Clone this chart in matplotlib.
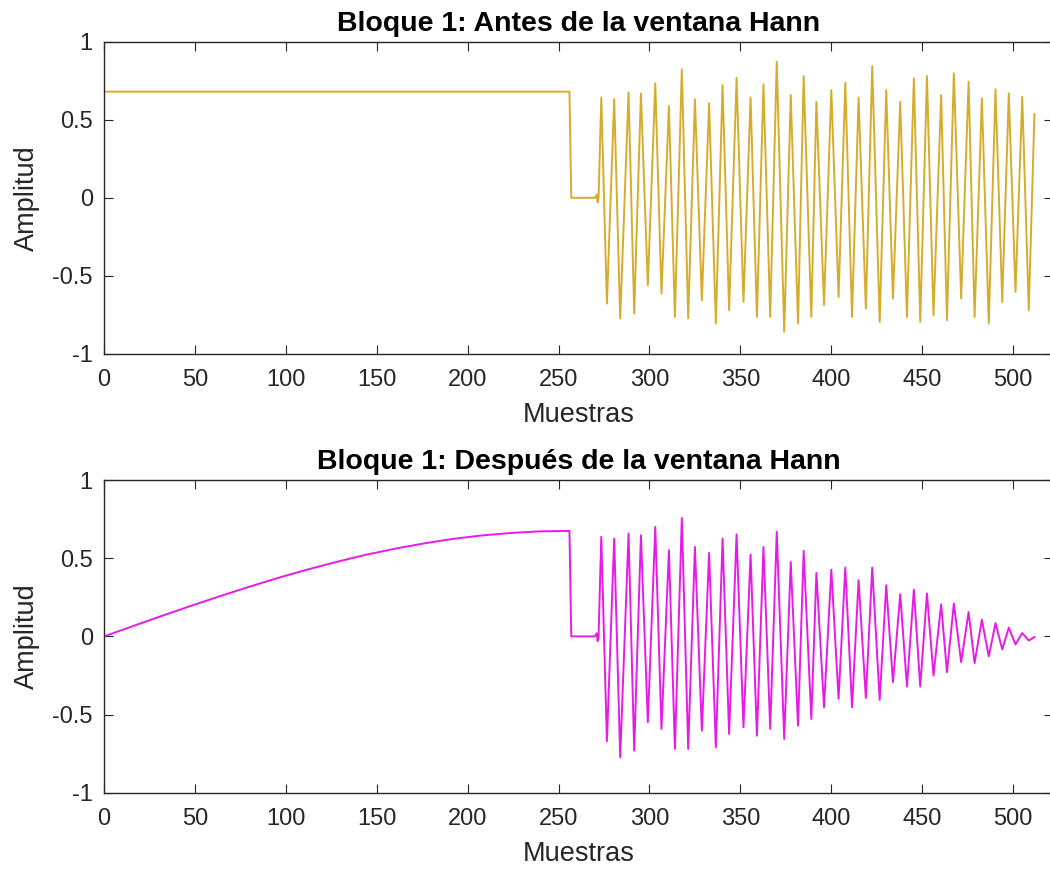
import numpy as np
import matplotlib.pyplot as plt

plt.rcParams['font.family'] = ['Liberation Sans', 'DejaVu Sans']
plt.rcParams['axes.unicode_minus'] = False

# --- datos (bloque de 512 muestras) ---
nivel_inicial = 0.68
x_plano = [0, 256]
x_silencio = [257, 270, 271, 271.5, 272]
y_silencio = [0, 0, 0.02, -0.03, 0]

# máximos y mínimos alternados del tramo oscilante
x_extremos = [273.5, 276.6, 280.6, 283.9, 288.5, 291.6, 295.3, 299.1, 303.2, 306.6,
              310.7, 314.0, 317.8, 321.3, 325.0, 328.8, 332.8, 336.5, 340.2, 343.8,
              347.9, 351.7, 355.6, 359.1, 362.7, 366.4, 370.0, 374.1, 377.7, 381.7,
              384.8, 389.0, 391.8, 396.0, 400.0, 404.0, 407.7, 411.4, 415.0, 419.0,
              422.5, 426.6, 430.2, 433.9, 437.9, 441.6, 445.4, 448.9, 452.6, 456.2,
              460.4, 463.6, 467.4, 471.4, 475.5, 478.8, 482.8, 486.6, 490.3, 494.0,
              497.6, 501.3, 505.0, 508.6, 511.7]
y_antes = [0.643, -0.677, 0.633, -0.773, 0.676, -0.741, 0.669, -0.56, 0.733, -0.613,
           0.588, -0.763, 0.823, -0.773, 0.631, -0.656, 0.605, -0.805, 0.722, -0.72,
           0.769, -0.667, 0.643, -0.763, 0.727, -0.763, 0.872, -0.859, 0.658, -0.805,
           0.78, -0.763, 0.615, -0.688, 0.69, -0.635, 0.737, -0.763, 0.643, -0.709,
           0.844, -0.795, 0.69, -0.645, 0.615, -0.763, 0.765, -0.795, 0.78, -0.752,
           0.658, -0.784, 0.797, -0.645, 0.744, -0.763, 0.637, -0.805, 0.695, -0.667,
           0.669, -0.603, 0.647, -0.72, 0.536]
y_despues = [0.637, -0.671, 0.626, -0.774, 0.658, -0.731, 0.647, -0.549, 0.701, -0.592,
             0.551, -0.72, 0.758, -0.72, 0.572, -0.603, 0.534, -0.71, 0.626, -0.624,
             0.652, -0.581, 0.524, -0.635, 0.572, -0.592, 0.669, -0.656, 0.476, -0.571,
             0.547, -0.528, 0.406, -0.453, 0.427, -0.399, 0.44, -0.453, 0.359, -0.393,
             0.44, -0.406, 0.327, -0.293, 0.269, -0.321, 0.299, -0.321, 0.274, -0.25,
             0.205, -0.229, 0.21, -0.165, 0.156, -0.171, 0.107, -0.128, 0.085, -0.083,
             0.056, -0.051, 0.021, -0.026, -0.004]

# subida de la primera mitad tras la ventana
x_rampa = list(range(0, 257, 16))
y_rampa = [0, 0.066, 0.132, 0.196, 0.258, 0.318, 0.375, 0.428, 0.477, 0.522,
           0.561, 0.595, 0.624, 0.646, 0.662, 0.672, 0.675]

x_antes = x_plano + x_silencio + x_extremos
y_antes_total = [nivel_inicial, nivel_inicial] + y_silencio + y_antes
x_despues = x_rampa + x_silencio + x_extremos
y_despues_total = y_rampa + y_silencio + y_despues


def dibujar(ax, x, y, color, titulo):
    ax.plot(x, y, color=color, linewidth=1.4, solid_joinstyle='round')
    ax.set_xlim(0, 522)
    ax.set_ylim(-1, 1)
    ax.set_xticks(np.arange(0, 501, 50))
    ax.set_yticks([-1, -0.5, 0, 0.5, 1])
    ax.set_yticklabels(['-1', '-0.5', '0', '0.5', '1'])
    ax.tick_params(direction='in', length=6.5, width=0.8, top=True, right=True,
                   labelsize=17, colors='#262626')
    ax.tick_params(axis='x', pad=11)
    ax.tick_params(axis='y', pad=8)
    for s in ax.spines.values():
        s.set_color('#262626')
        s.set_linewidth(1.0)
    ax.set_title(titulo, fontsize=20.5, fontweight='bold', color='black', pad=8)
    ax.set_xlabel('Muestras', fontsize=19.5, color='#262626')
    ax.set_ylabel('Amplitud', fontsize=19.5, color='#262626')
    ax.xaxis.set_label_coords(0.5, -0.155)
    ax.yaxis.set_label_coords(-0.067, 0.5)


fig = plt.figure(figsize=(10.5, 8.74), dpi=100)
ax1 = fig.add_axes([0.099, 0.595, 0.904, 0.3573])
ax2 = fig.add_axes([0.099, 0.093, 0.904, 0.3577])

dibujar(ax1, x_antes, y_antes_total, '#D6AC2C', 'Bloque 1: Antes de la ventana Hann')
dibujar(ax2, x_despues, y_despues_total, '#E81AE8', 'Bloque 1: Después de la ventana Hann')

fig.savefig('out.png', dpi=100)
